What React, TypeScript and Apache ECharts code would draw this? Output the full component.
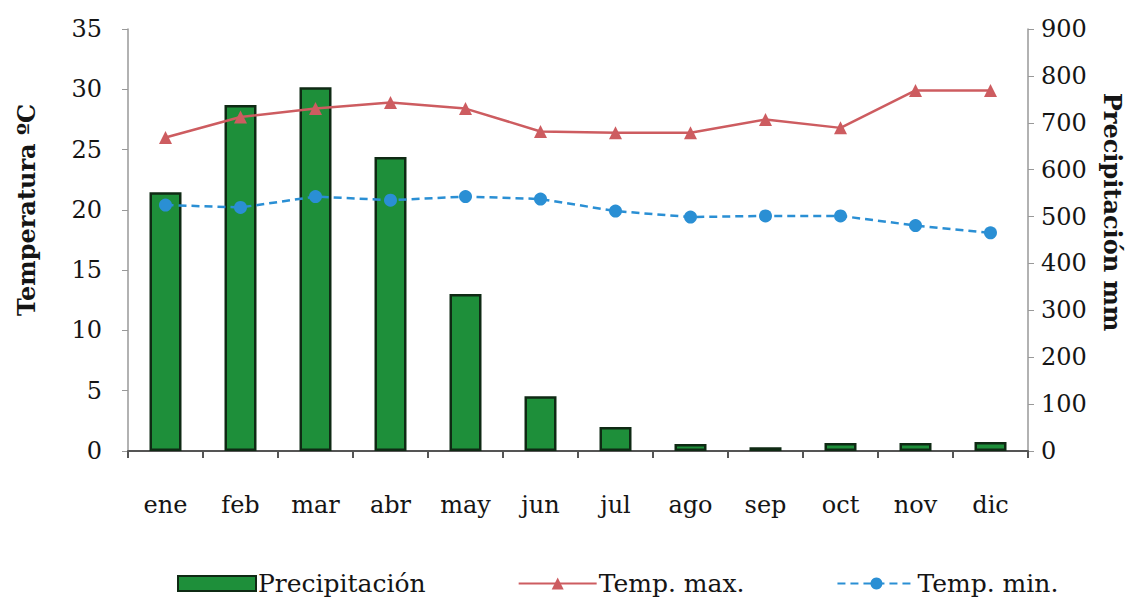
import React, { useEffect, useRef } from "react";
import * as echarts from "echarts";

const months = ["ene", "feb", "mar", "abr", "may", "jun", "jul", "ago", "sep", "oct", "nov", "dic"];
const precipitation = [552, 738, 776, 627, 335, 117, 51, 15, 8, 17, 17, 19];
const tempMax = [26.0, 27.7, 28.4, 28.9, 28.4, 26.5, 26.4, 26.4, 27.5, 26.8, 29.9, 29.9];
const tempMin = [20.4, 20.2, 21.1, 20.8, 21.1, 20.9, 19.9, 19.4, 19.5, 19.5, 18.7, 18.1];

const FONT = "DejaVu Serif";
const TEXT = "#151515";

export default function App() {
  const ref = useRef<HTMLDivElement>(null);
  useEffect(() => {
    if (!ref.current) return;
    const chart = echarts.init(ref.current, null, { renderer: "svg" });
    chart.setOption({
      animation: false,
      backgroundColor: "#ffffff",
      textStyle: { fontFamily: FONT, color: TEXT },
      grid: { left: 128, right: 108, top: 29, bottom: 148, containLabel: false },
      legend: {
        left: 172,
        top: 566,
        itemGap: 92,
        itemWidth: 78,
        itemHeight: 15,
        textStyle: { fontFamily: FONT, fontSize: 25, color: TEXT, padding: [0, 0, 0, -3] },
        data: [
          { name: "Precipitación", icon: "rect" },
          { name: "Temp. max." },
          { name: "Temp. min." },
        ],
      },
      xAxis: {
        type: "category",
        data: months,
        boundaryGap: true,
        axisLine: { lineStyle: { color: "#555", width: 2 } },
        axisTick: { show: true, inside: false, length: 7, lineStyle: { color: "#555", width: 2 } },
        axisLabel: { fontFamily: FONT, fontSize: 24, color: TEXT, margin: 42, interval: 0 },
      },
      yAxis: [
        {
          type: "value",
          min: 0,
          max: 35,
          interval: 5,
          position: "left",
          axisLine: { show: true, lineStyle: { color: "#999", width: 1.5 } },
          axisTick: { show: true, inside: false, length: 6, lineStyle: { color: "#999" } },
          splitLine: { show: false },
          axisLabel: { fontFamily: FONT, fontSize: 24, color: TEXT, margin: 26 },
        },
        {
          type: "value",
          min: 0,
          max: 900,
          interval: 100,
          position: "right",
          axisLine: { show: true, lineStyle: { color: "#999", width: 1.5 } },
          axisTick: { show: true, inside: false, length: 6, lineStyle: { color: "#999" } },
          splitLine: { show: false },
          axisLabel: { fontFamily: FONT, fontSize: 24, color: TEXT, margin: 13 },
        },
      ],
      graphic: [
        {
          type: "text",
          x: 26,
          y: 210,
          rotation: Math.PI / 2,
          style: {
            text: "Temperatura ºC",
            font: `bold 24px "${FONT}"`,
            fill: TEXT,
            align: "center",
            verticalAlign: "middle",
          },
        },
        {
          type: "text",
          x: 1112,
          y: 212,
          rotation: -Math.PI / 2,
          style: {
            text: "Precipitación mm",
            font: `bold 24px "${FONT}"`,
            fill: TEXT,
            align: "center",
            verticalAlign: "middle",
          },
        },
      ],
      series: [
        {
          name: "Precipitación",
          type: "bar",
          yAxisIndex: 1,
          data: precipitation,
          barWidth: 32,
          itemStyle: { color: "#1e8f3a", borderColor: "#0f2a14", borderWidth: 2.5 },
        },
        {
          name: "Temp. max.",
          type: "line",
          yAxisIndex: 0,
          data: tempMax,
          symbol: "triangle",
          symbolSize: 13,
          lineStyle: { color: "#cd5c60", width: 2.5 },
          itemStyle: { color: "#cd5c60" },
        },
        {
          name: "Temp. min.",
          type: "line",
          yAxisIndex: 0,
          data: tempMin,
          symbol: "circle",
          symbolSize: 13,
          lineStyle: { color: "#2a8fd4", width: 2.5, type: [8, 5] },
          itemStyle: { color: "#2a8fd4" },
        },
      ],
    });
    return () => chart.dispose();
  }, []);
  return (
    <div
      ref={ref}
      style={{ position: "absolute", left: 0, top: 0, width: 1136, height: 599 }}
    />
  );
}
